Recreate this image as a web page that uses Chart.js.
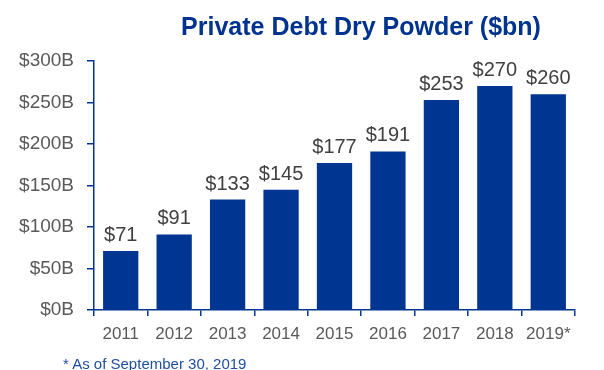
<!DOCTYPE html>
<html>
<head>
<meta charset="utf-8">
<script src="https://cdn.jsdelivr.net/npm/chart.js@4"></script>
<style>
  body { margin: 0; background: #fff; }
  #wrap { position: relative; width: 604px; height: 370px; }
  #title {
    position: absolute; left: 150px; top: 12px; width: 422px; text-align: center; line-height: 1;
    font: bold 25px "Liberation Sans", Arial, sans-serif; color: #00338d; white-space: nowrap;
  }
  #note {
    position: absolute; left: 63px; top: 355px; line-height: 1;
    font: 15px "Liberation Sans", Arial, sans-serif; color: #1f4ea3; white-space: nowrap;
  }
</style>
</head>
<body>
<div id="wrap">
  <canvas id="chart" width="604" height="370"></canvas>
  <div id="title">Private Debt Dry Powder ($bn)</div>
  <div id="note">* As of September 30, 2019</div>
</div>
<script>
const years = ["2011", "2012", "2013", "2014", "2015", "2016", "2017", "2018", "2019*"];
const dryPowder = [71, 91, 133, 145, 177, 191, 253, 270, 260];
const yTicks = [0, 50, 100, 150, 200, 250, 300];

const BLUE = "#003591";
const GREY = "#595959";

// value labels above each bar
const barLabels = {
    id: "barLabels",
    afterDatasetsDraw(chart) {
        let ctx = chart.ctx;
        let meta = chart.getDatasetMeta(0);
        ctx.save();
        ctx.font = "20px 'Liberation Sans', Arial, sans-serif";
        ctx.fillStyle = "#404040";
        ctx.textAlign = "center";
        ctx.textBaseline = "alphabetic";
        meta.data.forEach((bar, i) => {
            ctx.fillText("$" + dryPowder[i], bar.x, bar.y - 10);
        });
        ctx.restore();
    }
};

new Chart(document.getElementById("chart"), {
    type: "bar",
    data: {
        labels: years,
        datasets: [{
            data: dryPowder,
            backgroundColor: BLUE,
            barPercentage: 0.66,
            categoryPercentage: 1
        }]
    },
    options: {
        responsive: false,
        animation: false,
        layout: { padding: { left: 0, right: 29, top: 61, bottom: 0 } },
        plugins: {
            legend: { display: false },
            tooltip: { enabled: false }
        },
        scales: {
            x: {
                afterFit(scale) { scale.height = 60; },
                grid: { drawOnChartArea: false, color: BLUE, tickLength: 6, lineWidth: 1.5 },
                border: { color: BLUE, width: 1.5 },
                ticks: {
                    color: GREY,
                    padding: 8,
                    font: { family: "'Liberation Sans', Arial, sans-serif", size: 17 }
                }
            },
            y: {
                min: 0,
                max: 300,
                afterFit(scale) { scale.width = 94; },
                afterBuildTicks(scale) { scale.ticks = yTicks.map(v => ({ value: v })); },
                grid: { drawOnChartArea: false, color: BLUE, tickLength: 7, lineWidth: 1.5 },
                border: { color: BLUE, width: 1.5 },
                ticks: {
                    color: GREY,
                    padding: 13,
                    font: { family: "'Liberation Sans', Arial, sans-serif", size: 19 },
                    callback: v => "$" + v + "B"
                }
            }
        }
    },
    plugins: [barLabels]
});
</script>
</body>
</html>
